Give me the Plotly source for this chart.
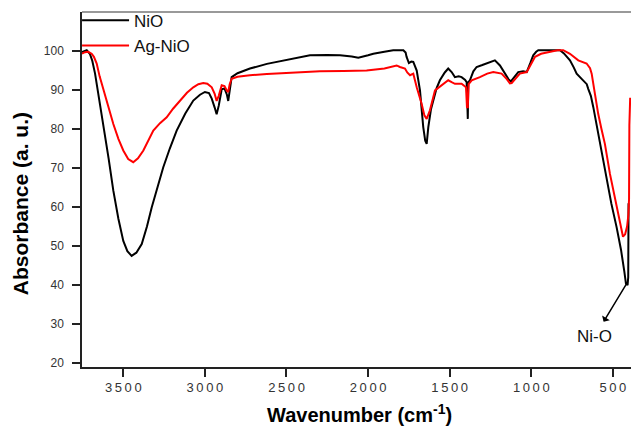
import plotly.graph_objects as go

# FTIR spectra (wavenumber in cm^-1, absorbance in a.u.)
nio_wn = [3753, 3735, 3724, 3705, 3690, 3673, 3650, 3622, 3590, 3561, 3530, 3500,
          3475, 3449, 3420, 3387, 3355, 3326, 3290, 3255, 3215, 3173, 3120, 3071,
          3030, 3000, 2975, 2958, 2940, 2928, 2915, 2897, 2880, 2865, 2857, 2848,
          2836, 2800, 2724, 2620, 2520, 2420, 2356, 2250, 2172, 2100, 2060, 2000,
          1968, 1900, 1846, 1784, 1770, 1764, 1750, 1735, 1723, 1702, 1682, 1662,
          1650, 1641, 1631, 1615, 1601, 1580, 1560, 1530, 1509, 1488, 1468, 1445,
          1427, 1405, 1396, 1393, 1389, 1386, 1376, 1355, 1335, 1300, 1273, 1245,
          1223, 1192, 1161, 1140, 1125, 1100, 1080, 1050, 1028, 1005, 988, 970,
          957, 900, 860, 824, 800, 780, 763, 740, 722, 690, 660, 651, 635, 620,
          600, 579, 560, 538, 510, 477, 450, 430, 420, 410, 406, 404]
nio_abs = [99.7, 100.1, 100.2, 99.3, 97.5, 94.2, 88.5, 81.3, 72.5, 64.2, 57.0, 51.3,
           48.7, 47.5, 48.3, 50.5, 55.0, 59.9, 65.0, 70.2, 75.0, 79.6, 84.0, 87.3,
           88.8, 89.5, 89.2, 87.8, 85.5, 83.8, 86.0, 90.2, 90.4, 88.8, 87.2, 90.5,
           93.3, 94.3, 95.5, 96.7, 97.6, 98.4, 98.9, 99.0, 98.9, 98.6, 98.3, 98.9,
           99.3, 99.8, 100.2, 100.2, 99.6, 98.5, 96.9, 97.3, 97.2, 95.0, 89.9, 80.5,
           77.0, 76.2, 80.5, 85.0, 87.3, 90.5, 92.5, 94.5, 95.5, 94.6, 93.3, 93.5,
           93.3, 92.6, 92.0, 82.6, 82.6, 92.0, 92.5, 94.8, 95.9, 96.4, 96.8, 97.2,
           97.6, 96.3, 94.2, 92.8, 92.2, 93.5, 94.6, 94.8, 94.6, 97.0, 98.9, 99.8,
           100.2, 100.2, 100.2, 100.2, 99.4, 98.4, 97.6, 95.8, 94.2, 92.8, 91.5, 90.3,
           88.5, 85.6, 81.0, 76.2, 72.0, 66.8, 61.0, 54.8, 49.0, 43.5, 40.4, 40.0,
           42.0, 61.0]

agnio_wn = [3753, 3735, 3715, 3694, 3680, 3663, 3645, 3622, 3590, 3561, 3530, 3500,
            3470, 3439, 3410, 3377, 3345, 3316, 3275, 3234, 3195, 3153, 3110, 3071,
            3040, 3010, 2985, 2958, 2940, 2928, 2915, 2897, 2880, 2865, 2857, 2848,
            2836, 2800, 2724, 2620, 2520, 2417, 2295, 2150, 2009, 1900, 1825, 1805,
            1774, 1760, 1743, 1723, 1702, 1672, 1655, 1641, 1621, 1590, 1549, 1509,
            1488, 1468, 1427, 1400, 1394, 1389, 1384, 1365, 1315, 1270, 1233, 1182,
            1150, 1131, 1120, 1070, 1028, 1005, 977, 940, 886, 840, 804, 763, 712,
            661, 640, 630, 610, 590, 570, 549, 518, 477, 455, 438, 425, 413, 405,
            401, 399, 394]
agnio_abs = [99.3, 99.7, 99.8, 99.3, 98.5, 96.8, 93.5, 89.9, 85.5, 81.3, 77.5, 74.5,
             72.3, 71.5, 72.5, 74.5, 77.3, 79.6, 81.5, 83.0, 85.2, 87.3, 89.3, 90.7,
             91.5, 91.8, 91.6, 90.7, 89.0, 87.2, 88.5, 91.2, 91.0, 89.8, 89.5, 91.5,
             92.9, 93.4, 93.8, 94.1, 94.3, 94.6, 94.8, 94.9, 95.0, 95.5, 96.3, 95.9,
             95.5, 94.5, 93.8, 94.2, 90.7, 86.5, 83.5, 82.6, 84.8, 89.9, 91.2, 92.5,
             92.0, 91.6, 91.6, 90.7, 85.6, 85.6, 91.5, 92.5, 93.3, 94.2, 94.6, 94.2,
             92.8, 91.7, 91.8, 94.2, 94.6, 96.5, 98.5, 99.3, 99.7, 100.2, 100.2, 99.3,
             97.6, 96.8, 95.6, 94.2, 89.0, 83.9, 80.0, 76.2, 68.5, 59.9, 55.0, 52.4,
             53.0, 55.0, 58.0, 62.0, 81.0, 88.0]

x_ticks = [3500, 3000, 2500, 2000, 1500, 1000, 500]
x_tick_labels = ["3\u20095\u20090\u20090", "3\u20090\u20090\u20090", "2\u20095\u20090\u20090",
                 "2\u20090\u20090\u20090", "1\u20095\u20090\u20090", "1\u20090\u20090\u20090",
                 "5\u20090\u20090"]
y_ticks = [20, 30, 40, 50, 60, 70, 80, 90, 100]

FONT = "Arial, Liberation Sans, sans-serif"

fig = go.Figure()
fig.add_trace(go.Scatter(x=nio_wn, y=nio_abs, mode="lines", name="NiO",
                         line=dict(color="#000000", width=2)))
fig.add_trace(go.Scatter(x=agnio_wn, y=agnio_abs, mode="lines", name="Ag-NiO",
                         line=dict(color="#ff0000", width=2)))

fig.update_layout(
    width=631, height=427,
    margin=dict(l=82, r=0, t=12, b=60),
    paper_bgcolor="white", plot_bgcolor="white",
    font=dict(family=FONT, color="#222222"),
    showlegend=True,
    legend=dict(x=-0.009, y=1.026, xanchor="left", yanchor="top",
                bgcolor="rgba(0,0,0,0)", borderwidth=0,
                font=dict(size=17, color="#111111", family=FONT),
                itemwidth=47, tracegroupgap=0),
    xaxis=dict(range=[3753, 389], showgrid=False, zeroline=False,
               showline=True, linecolor="#222222", linewidth=1.5,
               ticks="outside", ticklen=8, tickwidth=1.5, tickcolor="#222222",
               tickvals=x_ticks, ticktext=x_tick_labels,
               tickfont=dict(size=13, color="#333333", family=FONT)),
    yaxis=dict(range=[19, 110], showgrid=False, zeroline=False,
               showline=True, linecolor="#222222", linewidth=1.5,
               ticks="outside", ticklen=8, tickwidth=1.5, tickcolor="#222222",
               tickvals=y_ticks, ticklabelstandoff=6,
               tickfont=dict(size=12, color="#333333", family=FONT)),
)

# frame line along the top of the plot area
fig.add_shape(type="line", xref="paper", yref="paper", x0=0, x1=1, y0=1, y1=1,
              line=dict(color="#777777", width=1.5))

# axis titles
fig.add_annotation(text="Absorbance (a. u.)", xref="paper", yref="paper",
                   x=-0.112, y=0.46, textangle=-90, showarrow=False,
                   xanchor="center", yanchor="middle",
                   font=dict(size=21, color="#000000", family=FONT, weight="bold"))
fig.add_annotation(text="Wavenumber (cm<sup>-1</sup>)", xref="paper", yref="paper",
                   x=0.505, y=-0.13, showarrow=False,
                   xanchor="center", yanchor="middle",
                   font=dict(size=20, color="#000000", family=FONT, weight="bold"))

# Ni-O band label, arrow drawn from the band minimum towards the label
fig.add_annotation(text="Ni-O", x=414, y=40.5, ax=610, ay=26.9,
                   xref="x", yref="y", axref="x", ayref="y",
                   showarrow=True, arrowside="start", arrowhead=2, arrowsize=1,
                   arrowwidth=1.5, arrowcolor="#000000",
                   standoff=0, startstandoff=4,
                   font=dict(size=17, color="#111111", family=FONT))

fig.write_html("out.html")
